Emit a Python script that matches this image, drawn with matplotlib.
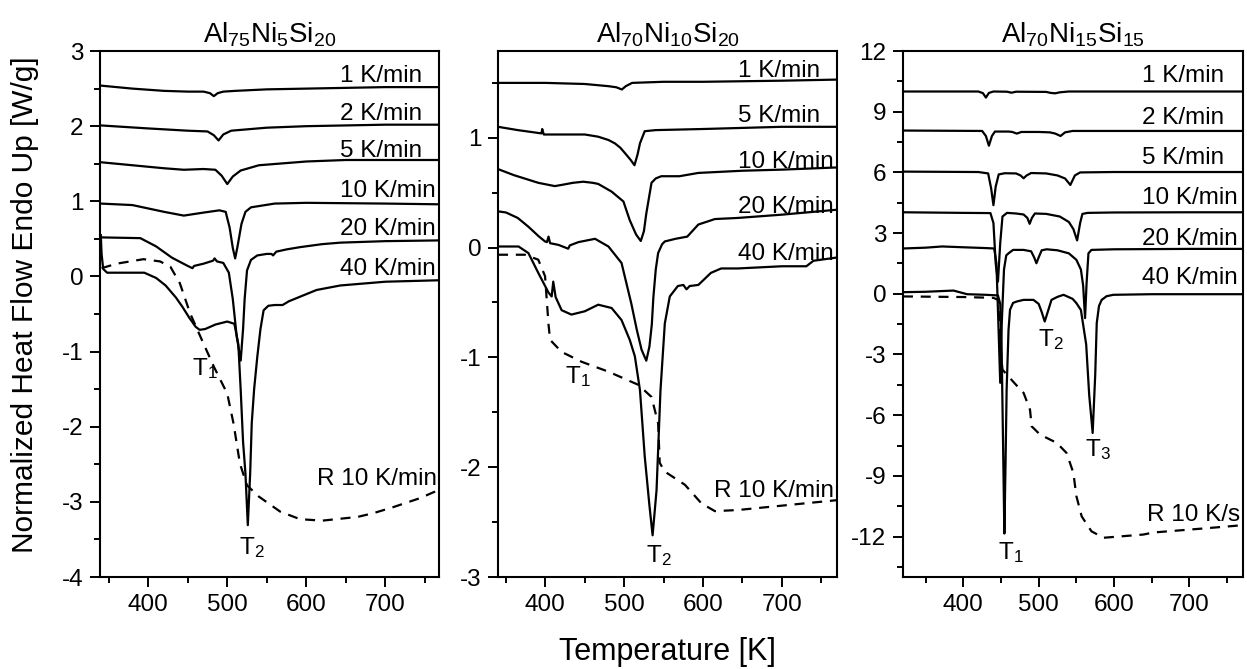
import matplotlib
matplotlib.use('Agg')
from matplotlib import pyplot as plt
from matplotlib.ticker import MultipleLocator

plt.rcParams['font.family'] = ['Liberation Sans', 'DejaVu Sans']
plt.rcParams['mathtext.fontset'] = 'custom'
plt.rcParams['mathtext.rm'] = 'Liberation Sans'
plt.rcParams['mathtext.it'] = 'Liberation Sans'
plt.rcParams['axes.unicode_minus'] = False

# ---- Al75Ni5Si20 ----
a_1_t = [340, 380, 420, 450, 470, 478, 483, 488, 495, 510, 550, 600, 650, 700, 770]
a_1_v = [2.54, 2.50, 2.47, 2.46, 2.46, 2.44, 2.40, 2.44, 2.46, 2.47, 2.49, 2.50, 2.51, 2.52, 2.52]
a_2_t = [340, 400, 450, 475, 483, 489, 495, 505, 550, 600, 700, 770]
a_2_v = [2.01, 1.97, 1.94, 1.93, 1.88, 1.81, 1.89, 1.94, 1.98, 2.00, 2.02, 2.02]
a_5_t = [340, 380, 420, 445, 470, 485, 493, 500, 507, 517, 540, 600, 650, 700, 770]
a_5_v = [1.52, 1.48, 1.44, 1.42, 1.43, 1.42, 1.34, 1.23, 1.33, 1.41, 1.48, 1.53, 1.55, 1.55, 1.55]
a_10_t = [340, 380, 420, 445, 470, 490, 498, 503, 507, 510, 513, 518, 523, 530, 560, 600, 700, 770]
a_10_v = [0.97, 0.95, 0.86, 0.81, 0.85, 0.88, 0.86, 0.65, 0.38, 0.24, 0.40, 0.70, 0.86, 0.92, 0.97, 0.98, 0.97, 0.96]
a_20_t = [340, 390, 410, 430, 450, 456, 458, 462, 470, 482, 484, 487, 495, 502, 507, 512, 517,
          520, 522, 525, 530, 538, 550, 556, 558, 562, 575, 592, 620, 643, 700, 770]
a_20_v = [0.52, 0.51, 0.40, 0.25, 0.14, 0.11, 0.14, 0.15, 0.17, 0.21, 0.24, 0.20, 0.18, 0.05, -0.30, -0.80, -1.12,
          -0.70, -0.30, 0.08, 0.22, 0.28, 0.30, 0.30, 0.28, 0.33, 0.36, 0.39, 0.43, 0.45, 0.47, 0.48]
a_40_t = [340, 341, 343, 348, 360, 395, 410, 422, 435, 443, 452, 460, 465, 472, 485, 500, 509, 514, 517,
          520, 523, 526, 529, 531, 534, 538, 542, 546, 552, 560, 570, 578, 592, 613, 643, 700, 770]
a_40_v = [0.55, 0.30, 0.10, 0.05, 0.05, 0.05, -0.02, -0.12, -0.28, -0.40, -0.55, -0.67, -0.71, -0.70, -0.64, -0.60,
          -0.63, -0.90, -1.51, -2.2, -2.62, -3.31, -2.62, -1.95, -1.5, -1.07, -0.7, -0.45, -0.39, -0.38, -0.38,
          -0.33, -0.27, -0.18, -0.12, -0.07, -0.05]
a_r_t = [341, 360, 394, 415, 428, 440, 453, 466, 483, 500, 508, 516, 525, 540, 567, 592, 620, 665, 685, 710, 744, 770]
a_r_v = [0.11, 0.17, 0.23, 0.20, 0.13, -0.09, -0.49, -0.80, -1.20, -1.56, -1.96, -2.49, -2.78, -2.93, -3.13,
         -3.23, -3.25, -3.20, -3.15, -3.07, -2.95, -2.83]

# ---- Al70Ni10Si20 ----
b_1_t = [340, 400, 450, 480, 490, 497, 502, 510, 550, 600, 700, 770]
b_1_v = [1.50, 1.50, 1.49, 1.47, 1.46, 1.44, 1.47, 1.50, 1.51, 1.51, 1.52, 1.53]
b_5_t = [340, 365, 395, 396, 398, 420, 450, 467, 480, 488, 495, 501, 508, 513, 517, 520, 526, 540, 600, 650, 700, 770]
b_5_v = [1.10, 1.07, 1.04, 1.08, 1.03, 1.03, 1.03, 1.01, 0.98, 0.95, 0.91, 0.86, 0.80, 0.75, 0.85, 0.95, 1.06,
         1.07, 1.08, 1.09, 1.10, 1.10]
b_10_t = [340, 360, 391, 412, 420, 435, 448, 460, 467, 484, 499, 507, 515, 521, 525, 528, 534.6, 540, 547,
          570, 594, 650, 700, 770]
b_10_v = [0.715, 0.66, 0.59, 0.56, 0.57, 0.59, 0.60, 0.59, 0.58, 0.51, 0.42, 0.25, 0.12, 0.06, 0.15, 0.31, 0.59,
          0.63, 0.65, 0.65, 0.68, 0.70, 0.71, 0.73]
b_20_t = [340, 350, 365, 378.5, 392, 399.6, 402, 404, 406, 416.5, 429, 431, 442, 463, 480, 496.6, 509, 516, 522,
          528, 532, 535, 537, 540, 543, 548, 551.5, 565, 580, 594, 615, 644, 700, 770]
b_20_v = [0.33, 0.32, 0.27, 0.19, 0.10, 0.056, 0.05, 0.10, 0.04, 0.025, -0.01, 0.02, 0.05, 0.08, 0.01, -0.14,
          -0.51, -0.75, -0.93, -1.03, -0.90, -0.70, -0.45, -0.20, -0.05, 0.03, 0.056, 0.08, 0.10, 0.21, 0.26,
          0.27, 0.30, 0.345]
b_40_t = [340, 366, 378.5, 391, 404, 408, 410, 413, 420.6, 433, 450, 467, 484, 496.6, 507, 513.5, 520, 526, 532,
          536, 541, 546, 551.5, 557.8, 568, 575, 579, 583, 594, 610, 623, 644, 700, 731, 740, 770]
b_40_v = [0.01, 0.01, -0.05, -0.23, -0.41, -0.445, -0.31, -0.45, -0.57, -0.61, -0.58, -0.52, -0.55, -0.66,
          -0.84, -0.99, -1.30, -1.90, -2.35, -2.62, -2.21, -1.30, -0.69, -0.445, -0.35, -0.34, -0.38, -0.35,
          -0.34, -0.23, -0.19, -0.19, -0.17, -0.17, -0.12, -0.09]
b_r_t = [340, 374, 391, 399.6, 402, 404, 406, 420.6, 446, 480, 518, 534.6, 543, 545, 551.5, 577, 598, 615, 644, 700, 770]
b_r_v = [-0.065, -0.065, -0.11, -0.26, -0.50, -0.70, -0.84, -0.95, -1.04, -1.13, -1.25, -1.36, -1.60, -1.96,
         -2.04, -2.16, -2.33, -2.40, -2.39, -2.35, -2.30]

# ---- Al70Ni15Si15 ----
c_1_t = [320, 420, 426, 430, 434, 440, 458, 464, 470, 510, 516, 522, 528, 540, 600, 700, 770]
c_1_v = [10.0, 10.0, 9.92, 9.70, 9.93, 10.0, 9.99, 9.94, 9.99, 9.98, 9.93, 9.91, 9.96, 10.0, 10.0, 10.0, 10.0]
c_2_t = [320, 425, 430, 434, 438, 442, 460, 465, 471, 477, 500, 515, 522, 529, 535, 545, 600, 700, 770]
c_2_v = [8.07, 8.05, 7.8, 7.32, 7.8, 8.02, 8.02, 8.0, 7.92, 8.0, 8.0, 7.98, 7.92, 7.80, 7.98, 8.05, 8.05, 8.05, 8.05]
c_5_t = [320, 420, 433, 437, 440, 443, 447, 455, 470, 476, 480, 484, 490, 510, 525, 535, 542, 548, 555, 600, 700, 770]
c_5_v = [6.04, 6.02, 5.95, 5.2, 4.38, 5.3, 5.90, 5.96, 5.95, 5.85, 5.71, 5.85, 5.97, 5.95, 5.85, 5.70, 5.38,
         5.85, 6.0, 6.02, 6.02, 6.02]
c_10_t = [320, 400, 436, 440, 443, 446, 449, 452, 458, 470, 480, 485, 488, 491, 495, 510, 528, 540, 546, 551,
          555, 558, 565, 600, 700, 770]
c_10_v = [4.03, 4.0, 3.99, 3.5, 1.5, 0.6, 2.5, 3.82, 4.0, 3.97, 3.92, 3.75, 3.46, 3.75, 3.97, 3.95, 3.82, 3.55,
          3.2, 2.64, 3.5, 3.95, 4.0, 4.02, 4.03, 4.03]
c_20_t = [320, 350, 372, 400, 430, 441, 444, 447, 449, 451, 454, 457, 460, 466, 480, 490, 494, 497, 500, 504,
          510.6, 525, 540, 550, 556, 559, 561.5, 563.5, 566, 570, 600, 700, 770]
c_20_v = [2.24, 2.28, 2.34, 2.30, 2.26, 2.24, 1.5, -2.0, -4.4, -1.5, 1.2, 1.9, 2.0, 2.17, 2.17, 2.1, 1.8, 1.51,
          1.8, 2.15, 2.2, 2.15, 2.0, 1.68, 1.2, 0.4, -1.2, 0.5, 2.0, 2.17, 2.2, 2.22, 2.22]
c_40_t = [320, 350, 387, 405, 430, 446, 449, 451, 453, 454.5, 456, 457.5, 460, 462, 466, 471, 480, 493, 500,
          504, 508, 512, 517, 525, 533, 545, 550, 556, 563, 567, 571.6, 575, 577, 580, 583.6, 590, 599, 650, 770]
c_40_v = [0.08, 0.10, 0.16, -0.02, -0.05, -0.08, -0.5, -3.0, -8.0, -11.85, -8.5, -4.74, -1.8, -0.79, -0.45,
          -0.38, -0.30, -0.30, -0.5, -0.9, -1.37, -0.9, -0.30, -0.15, -0.05, -0.25, -0.46, -0.8, -2.5, -5.0,
          -6.88, -4.0, -1.45, -0.6, -0.30, -0.12, -0.05, -0.02, -0.02]
c_r_t = [320, 400, 440, 446, 448, 450, 452, 462, 470, 480, 488.5, 490.7, 501.8, 524, 537, 546, 550, 557, 570,
         586, 639, 652, 718.6, 770]
c_r_v = [-0.13, -0.16, -0.2, -0.3, -1.5, -3.0, -3.75, -4.17, -4.5, -4.9, -5.73, -6.55, -6.96, -7.37, -7.87,
         -8.85, -10.0, -11.0, -11.74, -12.06, -11.9, -11.8, -11.6, -11.44]

titles = ['Al$_{75}$Ni$_{5}$Si$_{20}$', 'Al$_{70}$Ni$_{10}$Si$_{20}$', 'Al$_{70}$Ni$_{15}$Si$_{15}$']

fig = plt.figure(figsize=(12.47, 6.69), dpi=100)
ax1 = fig.add_axes([0.0802, 0.1375, 0.2719, 0.7862])
ax2 = fig.add_axes([0.3994, 0.1375, 0.2719, 0.7862])
ax3 = fig.add_axes([0.7241, 0.1375, 0.2727, 0.7862])

lw = 1.6
for t, v in [(a_1_t, a_1_v), (a_2_t, a_2_v), (a_5_t, a_5_v), (a_10_t, a_10_v), (a_20_t, a_20_v), (a_40_t, a_40_v)]:
    ax1.plot(t, v, color='black', lw=lw)
ax1.plot(a_r_t, a_r_v, color='black', lw=lw, dashes=(4.5, 3.5))

for t, v in [(b_1_t, b_1_v), (b_5_t, b_5_v), (b_10_t, b_10_v), (b_20_t, b_20_v), (b_40_t, b_40_v)]:
    ax2.plot(t, v, color='black', lw=lw)
ax2.plot(b_r_t, b_r_v, color='black', lw=lw, dashes=(4.5, 3.5))

for t, v in [(c_1_t, c_1_v), (c_2_t, c_2_v), (c_5_t, c_5_v), (c_10_t, c_10_v), (c_20_t, c_20_v), (c_40_t, c_40_v)]:
    ax3.plot(t, v, color='black', lw=lw)
ax3.plot(c_r_t, c_r_v, color='black', lw=lw, dashes=(4.5, 3.5))

fs = 17.5
# rate labels
for txt, y in [('1 K/min', 2.59), ('2 K/min', 2.08), ('5 K/min', 1.585), ('10 K/min', 1.06),
               ('20 K/min', 0.55), ('40 K/min', 0.017)]:
    ax1.text(643, y, txt, fontsize=fs, va='baseline')
ax1.text(613.5, -2.78, 'R 10 K/min', fontsize=fs, va='baseline')
for txt, y in [('1 K/min', 1.553), ('5 K/min', 1.148), ('10 K/min', 0.724), ('20 K/min', 0.314),
               ('40 K/min', -0.111)]:
    ax2.text(644.7, y, txt, fontsize=fs, va='baseline')
ax2.text(613.9, -2.267, 'R 10 K/min', fontsize=fs, va='baseline')
for txt, y in [('1 K/min', 10.45), ('2 K/min', 8.40), ('5 K/min', 6.42), ('10 K/min', 4.44),
               ('20 K/min', 2.42), ('40 K/min', 0.494)]:
    ax3.text(637.2, y, txt, fontsize=fs, va='baseline')
ax3.text(643.8, -11.24, 'R 10 K/s', fontsize=fs, va='baseline')

# peak labels
ax1.text(455.7, -1.31, 'T$_1$', fontsize=fs, va='baseline')
ax1.text(514.3, -3.69, 'T$_2$', fontsize=fs, va='baseline')
ax2.text(425, -1.23, 'T$_1$', fontsize=fs, va='baseline')
ax2.text(528.2, -2.86, 'T$_2$', fontsize=fs, va='baseline')
ax3.text(445.5, -13.10, 'T$_1$', fontsize=fs, va='baseline')
ax3.text(499.6, -2.60, 'T$_2$', fontsize=fs, va='baseline')
ax3.text(561.6, -8.03, 'T$_3$', fontsize=fs, va='baseline')

ax1.set_xlim(339, 768)
ax1.set_ylim(-4, 3)
ax1.yaxis.set_major_locator(MultipleLocator(1))
ax1.yaxis.set_minor_locator(MultipleLocator(0.5))
ax2.set_xlim(340, 770)
ax2.set_ylim(-3, 1.79)
ax2.yaxis.set_major_locator(MultipleLocator(1))
ax2.yaxis.set_minor_locator(MultipleLocator(0.5))
ax3.set_xlim(320, 771)
ax3.set_ylim(-14, 12)
ax3.yaxis.set_major_locator(MultipleLocator(3))
ax3.yaxis.set_minor_locator(MultipleLocator(1.5))

for ax, title in zip([ax1, ax2, ax3], titles):
    ax.xaxis.set_major_locator(MultipleLocator(100))
    ax.xaxis.set_minor_locator(MultipleLocator(50))
    ax.tick_params(which='major', direction='out', length=7, width=1.4, labelsize=fs, pad=5)
    ax.tick_params(which='minor', direction='out', length=4, width=1.4)
    for s in ax.spines.values():
        s.set_linewidth(1.5)
    ax.set_title(title, fontsize=20, pad=6)

fig.text(0.5349, 1 - 652 / 669, 'Temperature [K]', fontsize=22, ha='center', va='center')
fig.text(25 / 1247, 1 - 305 / 669, 'Normalized Heat Flow Endo Up [W/g]', fontsize=21.5,
         ha='center', va='center', rotation=90)

plt.savefig('out.png', dpi=100)
